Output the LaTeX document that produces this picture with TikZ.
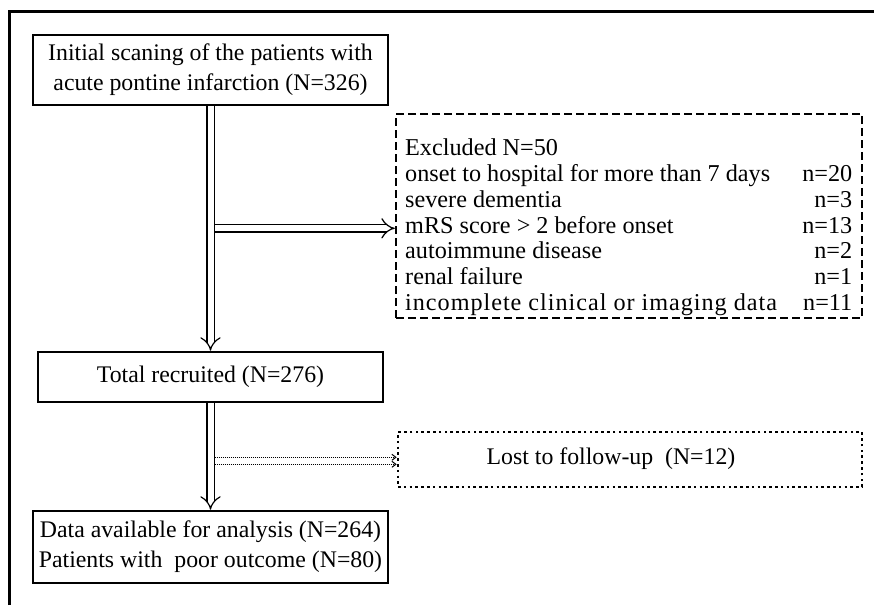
\documentclass[tikz,border=0pt]{standalone}
\usepackage{fontspec}
\setmainfont{Liberation Serif}
\usetikzlibrary{arrows.meta}
\begin{document}
\begin{tikzpicture}[x=1pt,y=-1pt,
  txt/.style={font=\fontsize{23.8}{30}\selectfont},
  listtxt/.style={font=\fontsize{24.2}{25.8}\selectfont},
  box/.style={draw, line width=2.6pt, inner sep=0pt, align=center, txt},
  dashbox/.style={draw, line width=2.4pt, dash pattern=on 8pt off 4pt, inner sep=0pt},
  dotbox/.style={draw, line width=2.6pt, dash pattern=on 2.6pt off 3.2pt, inner sep=0pt},
  dbl/.style={double, double distance=6pt, line width=1.2pt, -{Implies}},
  dotarrow/.style={line width=1pt, dash pattern=on 1pt off 1pt, -{Straight Barb[length=4pt,width=6pt]}},
  frameline/.style={line width=3pt}
]
\useasboundingbox (0,0) rectangle (874,605);
\coordinate (fbl) at (9,605);
\coordinate (ftl) at (9,11);
\coordinate (ftr) at (874,11);
\draw[frameline] (fbl) -- (ftl) -- (ftr);

\node[box, minimum width=355pt, minimum height=70pt] (box1) at (210.5,70)
  {Initial scaning of the patients with\\acute pontine infarction (N=326)};
\node[box, minimum width=345pt, minimum height=50pt] (box2) at (210.5,377)
  {Total recruited (N=276)};
\node[box, minimum width=355pt, minimum height=72pt] (box3) at (210.5,547)
  {Data available for analysis (N=264)\\Patients with\ \ poor outcome (N=80)};

\node[dashbox, minimum width=466pt, minimum height=204pt] (excl) at (629,216) {};
\node[listtxt, anchor=west, inner sep=0pt] (exlist) at (405,228) {%
\begin{tabular*}{447pt}{@{}l@{\extracolsep{\fill}}r@{}}
Excluded N=50 & \\
onset to hospital for more than 7 days & n=20\\
severe dementia & n=3\\
mRS score > 2 before onset & n=13\\
autoimmune disease & n=2\\
renal failure & n=1\\
{\addfontfeature{LetterSpace=4}incomplete clinical or imaging data} & n=11
\end{tabular*}};

\node[dotbox, minimum width=464pt, minimum height=55pt] (lost) at (630,459.5) {};
\node[txt] (losttxt) at (611,459) {Lost to follow-up\ \ (N=12)};

% side arrows
\path (box1.south) ++(4,122) coordinate (j1);
\draw[dbl] (j1) -- (j1 -| excl.west);
\path (box2.south) ++(4,54) coordinate (d1);
\path (box2.south) ++(4,61) coordinate (d2);
\draw[dotarrow] (d1) -- (d1 -| lost.west);
\draw[dotarrow] (d2) -- (d2 -| lost.west);

% main arrows
\draw[dbl] (box1.south) -- (box2.north);
\draw[dbl] (box2.south) -- (box3.north);
\end{tikzpicture}
\end{document}
